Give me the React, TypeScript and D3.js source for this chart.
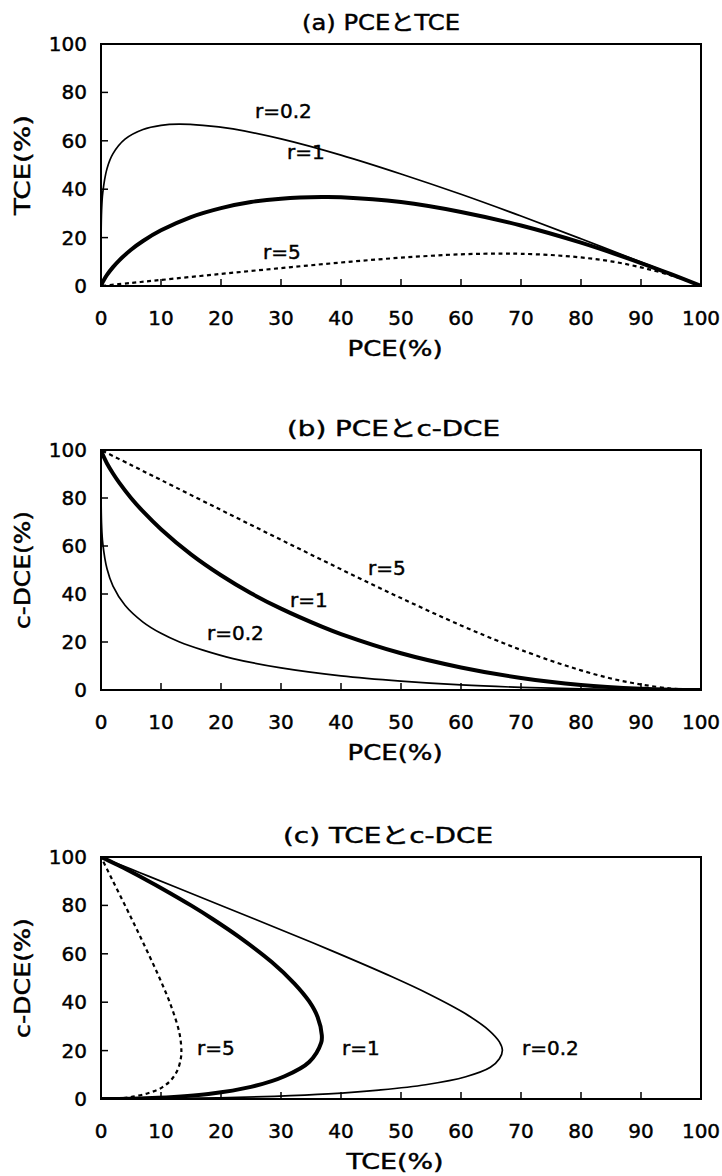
import React from "react";
import * as d3 from "d3";

// Data (percent values), ordered along time (PCE decreasing)
const pce02 = [100, 95, 90, 80, 70, 60, 50, 40, 30, 22, 17, 13, 10, 7, 4, 2, 1, 0.3, 0.1, 0.01, 0.001, 0.0001, 0.00001, 0];
const tce02 = [0, 5.0, 9.9, 19.5, 28.9, 37.9, 46.3, 54.1, 60.8, 64.9, 66.4, 66.9, 66.4, 64.7, 60.7, 54.7, 48.5, 38.7, 31.3, 19.8, 12.5, 7.9, 5.0, 0];
const dce02 = [0, 0.0, 0.1, 0.5, 1.1, 2.1, 3.7, 5.9, 9.2, 13.1, 16.6, 20.1, 23.6, 28.3, 35.3, 43.3, 50.5, 61.0, 68.6, 80.2, 87.5, 92.1, 95.0, 100];

const pce1 = [100, 95, 90, 80, 70, 60, 50, 40, 36.8, 30, 25, 20, 15, 10, 7, 5, 3, 2, 1, 0.5, 0.2, 0];
const tce1 = [0, 4.9, 9.5, 17.9, 25.0, 30.6, 34.7, 36.7, 36.8, 36.1, 34.7, 32.2, 28.5, 23.0, 18.6, 15.0, 10.5, 7.8, 4.6, 2.6, 1.2, 0];
const dce1 = [0, 0.1, 0.5, 2.1, 5.0, 9.4, 15.3, 23.3, 26.4, 33.9, 40.3, 47.8, 56.5, 67.0, 74.4, 80.0, 86.5, 90.2, 94.4, 96.9, 98.6, 100];

const pce5 = [100, 98, 95, 90, 85, 80, 75, 70, 67, 60, 50, 40, 30, 20, 10, 5, 0];
const tce5 = [0, 1.9, 4.4, 7.7, 10.2, 11.8, 12.8, 13.3, 13.4, 13.1, 11.7, 9.7, 7.4, 5.0, 2.5, 1.25, 0];
const dce5 = [0, 0.1, 0.6, 2.3, 4.8, 8.2, 12.2, 16.7, 19.6, 26.9, 38.3, 50.3, 62.6, 75.0, 87.5, 93.75, 100];

const xTicks = [0, 10, 20, 30, 40, 50, 60, 70, 80, 90, 100];
const yTicks = [0, 20, 40, 60, 80, 100];

const FONT = "'DejaVu Sans', 'Noto Sans CJK JP', sans-serif";

type Series = { name: string; x: number[]; y: number[]; width: number; dash?: string };
type Label = { text: string; x: number; y: number };

type PanelDef = {
  title: string;
  titleX: number;
  titleW: number;
  xTitle: string;
  xTitleW: number;
  yTitle: string;
  yTitleW: number;
  top: number;
  bottom: number;
  series: Series[];
  labels: Label[];
};

const LEFT = 101;
const RIGHT = 701;

const panels: PanelDef[] = [
  {
    title: "(a) PCEとTCE",
    titleX: 302,
    titleW: 158,
    xTitle: "PCE(%)",
    xTitleW: 95,
    yTitle: "TCE(%)",
    yTitleW: 100,
    top: 44,
    bottom: 286,
    series: [
      { name: "r=0.2", x: pce02, y: tce02, width: 1.7 },
      { name: "r=1", x: pce1, y: tce1, width: 4 },
      { name: "r=5", x: pce5, y: tce5, width: 2.2, dash: "4 3.5" },
    ],
    labels: [
      { text: "r=0.2", x: 255, y: 111 },
      { text: "r=1", x: 287, y: 152 },
      { text: "r=5", x: 263, y: 252 },
    ],
  },
  {
    title: "(b) PCEとc-DCE",
    titleX: 287,
    titleW: 213,
    xTitle: "PCE(%)",
    xTitleW: 95,
    yTitle: "c-DCE(%)",
    yTitleW: 118,
    top: 450,
    bottom: 690,
    series: [
      { name: "r=0.2", x: pce02, y: dce02, width: 1.7 },
      { name: "r=1", x: pce1, y: dce1, width: 4 },
      { name: "r=5", x: pce5, y: dce5, width: 2.2, dash: "4 3.5" },
    ],
    labels: [
      { text: "r=5", x: 368, y: 568 },
      { text: "r=1", x: 290, y: 600 },
      { text: "r=0.2", x: 207, y: 633 },
    ],
  },
  {
    title: "(c) TCEとc-DCE",
    titleX: 283,
    titleW: 210,
    xTitle: "TCE(%)",
    xTitleW: 97,
    yTitle: "c-DCE(%)",
    yTitleW: 120,
    top: 857,
    bottom: 1099,
    series: [
      { name: "r=0.2", x: tce02, y: dce02, width: 1.7 },
      { name: "r=1", x: tce1, y: dce1, width: 4 },
      { name: "r=5", x: tce5, y: dce5, width: 2.2, dash: "4 3.5" },
    ],
    labels: [
      { text: "r=5", x: 197, y: 1048 },
      { text: "r=1", x: 342, y: 1048 },
      { text: "r=0.2", x: 522, y: 1048 },
    ],
  },
];

function Panel({ p }: { p: PanelDef }) {
  const x = d3.scaleLinear().domain([0, 100]).range([LEFT, RIGHT]);
  const y = d3.scaleLinear().domain([0, 100]).range([p.bottom, p.top]);
  const line = (s: Series) =>
    d3
      .line<number>()
      .x((_, i) => x(s.x[i]))
      .y((_, i) => y(s.y[i]))
      .curve(d3.curveCatmullRom.alpha(0.5))(s.x) || "";
  return (
    <g>
      <g stroke="#000" strokeWidth={0.45}>
        <text
          x={p.titleX}
          y={p.top - 22}
          dominantBaseline="central"
          fontSize={22}
          textLength={p.titleW}
          lengthAdjust="spacingAndGlyphs"
        >
          {p.title}
        </text>
      </g>
      <defs>
        <clipPath id={`clip-${p.top}`}>
          <rect x={LEFT} y={p.top} width={RIGHT - LEFT} height={p.bottom - p.top} />
        </clipPath>
      </defs>
      <g clipPath={`url(#clip-${p.top})`}>
        {p.series.map((s) => (
          <path
            key={s.name}
            d={line(s)}
            fill="none"
            stroke="#000"
            strokeWidth={s.width}
            strokeDasharray={s.dash}
            strokeLinejoin="round"
            strokeLinecap={s.dash ? "butt" : "round"}
          />
        ))}
      </g>
      <rect x={LEFT} y={p.top} width={RIGHT - LEFT} height={p.bottom - p.top} fill="none" stroke="#000" strokeWidth={2} />
      {xTicks.map((t) => (
        <g key={`x${t}`}>
          <line x1={x(t)} x2={x(t)} y1={p.bottom} y2={p.bottom - 7} stroke="#000" strokeWidth={1.5} />
          <text x={x(t)} y={p.bottom + 32} textAnchor="middle" dominantBaseline="central" fontSize={20} stroke="#000" strokeWidth={0.45}>
            {t}
          </text>
        </g>
      ))}
      {yTicks.map((t) => (
        <g key={`y${t}`}>
          <line x1={LEFT} x2={LEFT + 7} y1={y(t)} y2={y(t)} stroke="#000" strokeWidth={1.5} />
          <text x={87} y={y(t)} textAnchor="end" dominantBaseline="central" fontSize={20} stroke="#000" strokeWidth={0.45}>
            {t}
          </text>
        </g>
      ))}
      <text
        x={(LEFT + RIGHT) / 2 - 6}
        y={p.bottom + 63}
        textAnchor="middle"
        dominantBaseline="central"
        fontSize={21}
        textLength={p.xTitleW}
        lengthAdjust="spacingAndGlyphs"
        stroke="#000"
        strokeWidth={0.45}
      >
        {p.xTitle}
      </text>
      <text
        transform={`translate(23, ${(p.top + p.bottom) / 2}) rotate(-90)`}
        textAnchor="middle"
        dominantBaseline="central"
        fontSize={21}
        textLength={p.yTitleW}
        lengthAdjust="spacingAndGlyphs"
        stroke="#000"
        strokeWidth={0.45}
      >
        {p.yTitle}
      </text>
      {p.labels.map((l) => (
        <text key={l.text} x={l.x} y={l.y} dominantBaseline="central" fontSize={20} stroke="#000" strokeWidth={0.45}>
          {l.text}
        </text>
      ))}
    </g>
  );
}

export default function App() {
  return (
    <svg
      width={722}
      height={1176}
      style={{ display: "block", position: "absolute", left: 0, top: 0, background: "#fff" }}
      fontFamily={FONT}
      fill="#000"
    >
      <rect x={0} y={0} width={722} height={1176} fill="#fff" />
      {panels.map((p) => (
        <Panel key={p.title} p={p} />
      ))}
    </svg>
  );
}
